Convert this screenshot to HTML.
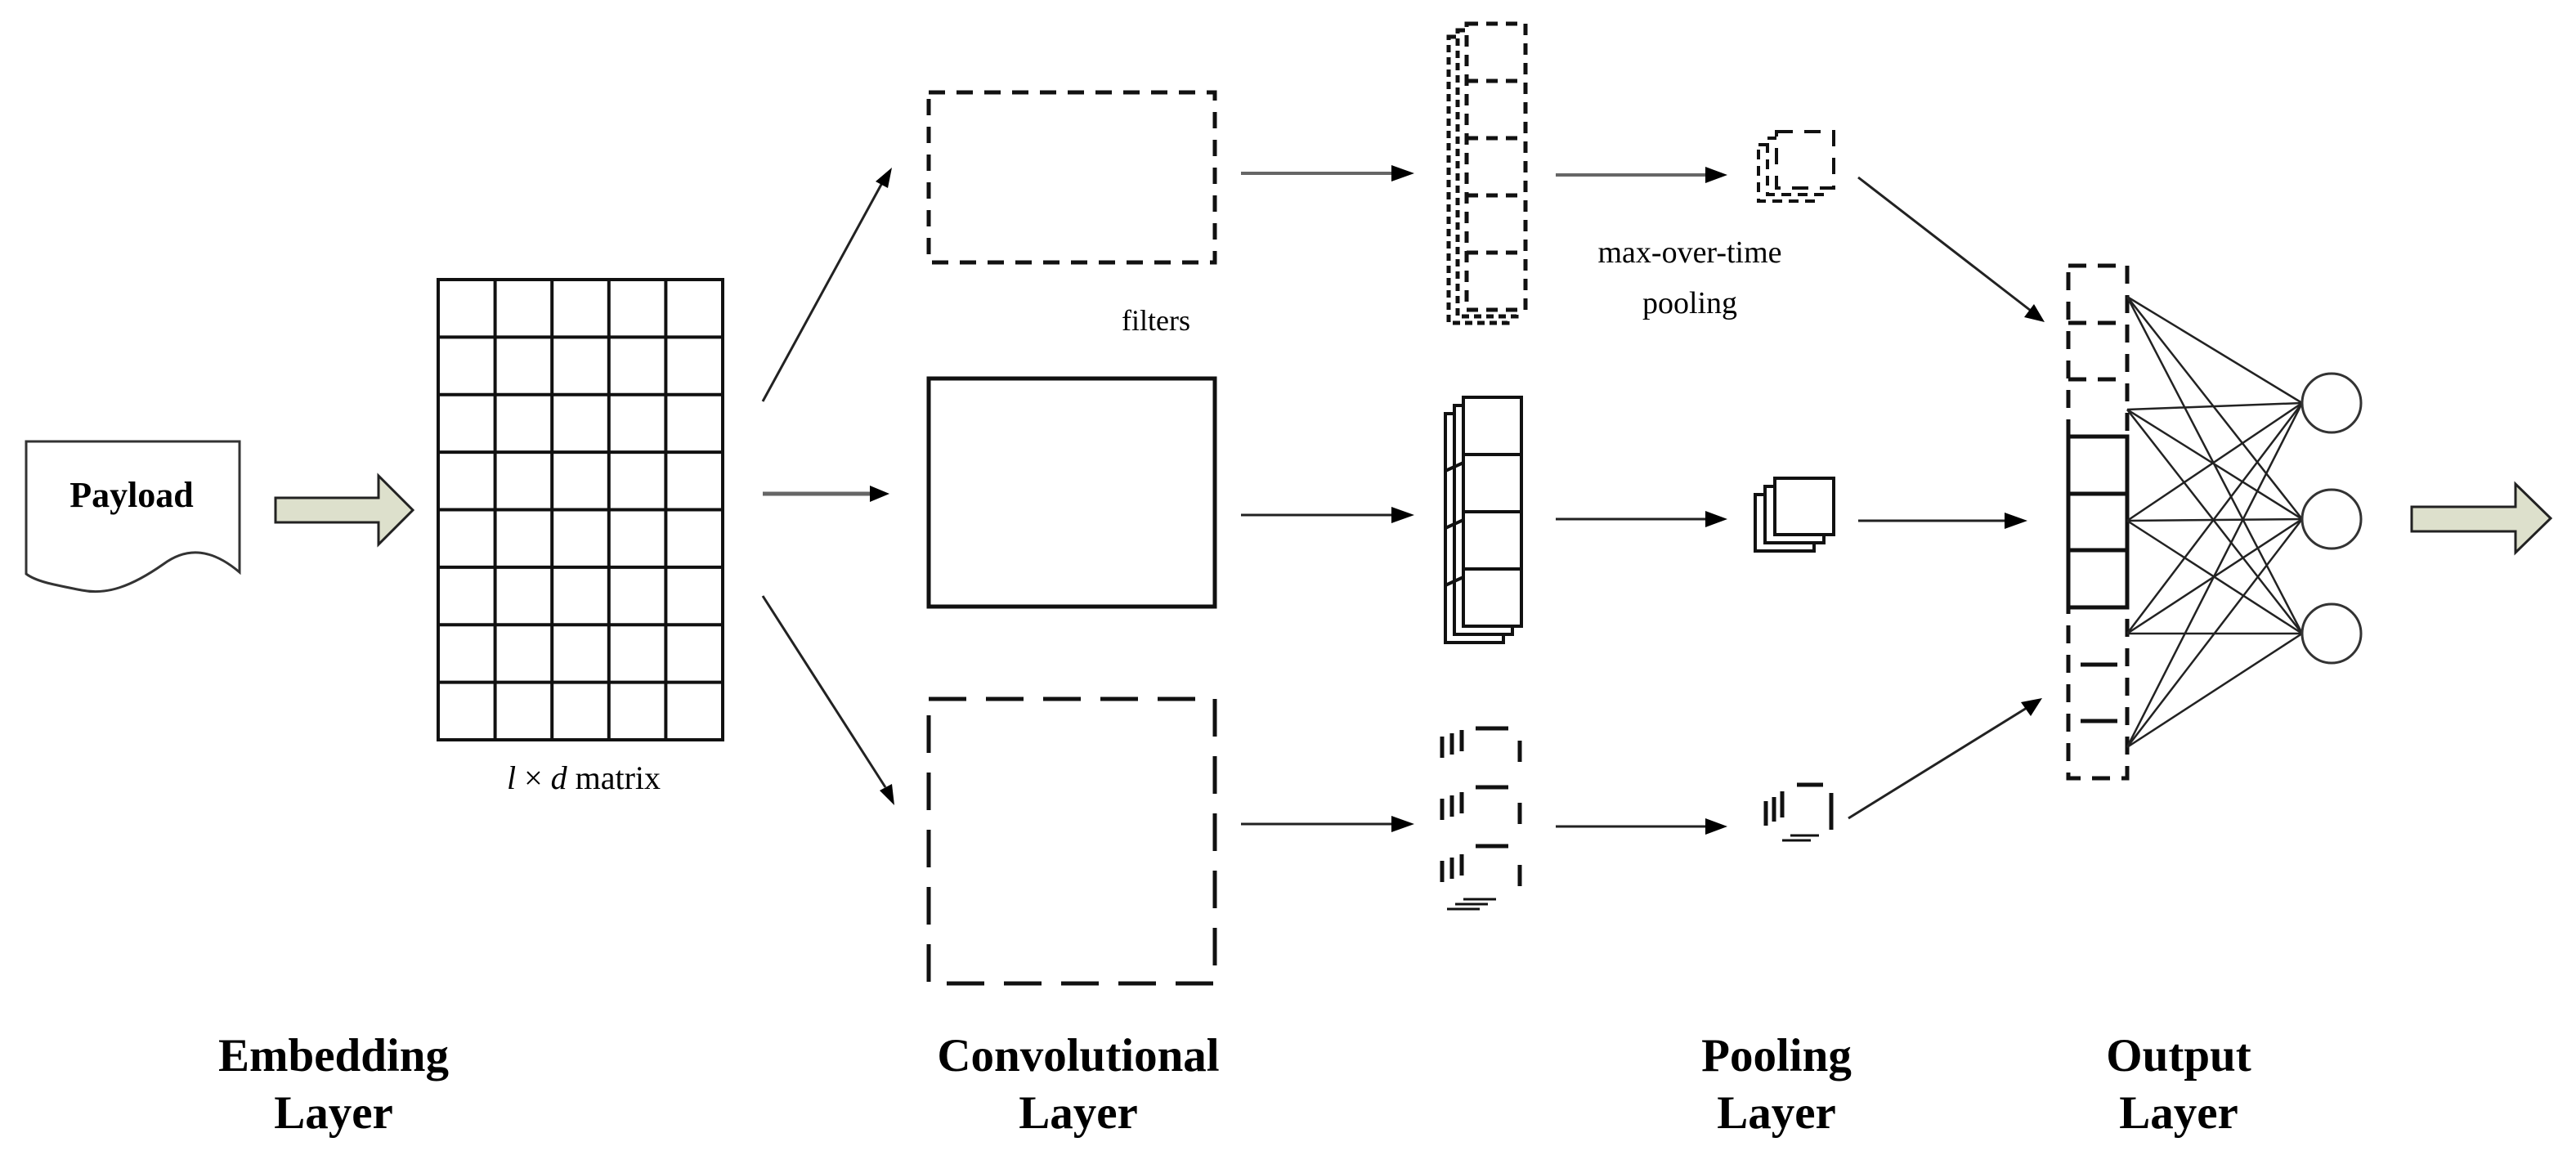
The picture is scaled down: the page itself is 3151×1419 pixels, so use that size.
<!DOCTYPE html>
<html><head><meta charset="utf-8"><style>
html,body{margin:0;padding:0;background:#fff;}
svg{display:block;}
text{font-family:"Liberation Serif",serif;fill:#000;}
</style></head><body>
<svg width="3151" height="1419" viewBox="0 0 3151 1419" xmlns="http://www.w3.org/2000/svg">

<!-- Payload document -->
<path d="M32,540 H293 V700 C260,672 230,668 200,690 C160,718 130,728 100,722 C70,716 45,712 32,702 Z" fill="#fff" stroke="#333" stroke-width="3"/>
<text x="161" y="620" font-size="44" font-weight="bold" text-anchor="middle">Payload</text>

<!-- input block arrow -->
<path d="M337,609 H463 V582 L505,624 L463,666 V639 H337 Z" fill="#dde0cc" stroke="#222" stroke-width="3"/>

<!-- matrix grid -->
<g stroke="#111" stroke-width="4" fill="none">
<rect x="536" y="342" width="348" height="563"/>
<line x1="605.6" y1="342" x2="605.6" y2="905"/>
<line x1="675.2" y1="342" x2="675.2" y2="905"/>
<line x1="744.8" y1="342" x2="744.8" y2="905"/>
<line x1="814.4" y1="342" x2="814.4" y2="905"/>
<line x1="536" y1="412.4" x2="884" y2="412.4"/>
<line x1="536" y1="482.8" x2="884" y2="482.8"/>
<line x1="536" y1="553.1" x2="884" y2="553.1"/>
<line x1="536" y1="623.5" x2="884" y2="623.5"/>
<line x1="536" y1="693.9" x2="884" y2="693.9"/>
<line x1="536" y1="764.3" x2="884" y2="764.3"/>
<line x1="536" y1="834.6" x2="884" y2="834.6"/>
</g>
<text x="714" y="965" font-size="40" text-anchor="middle"><tspan font-style="italic">l</tspan> × <tspan font-style="italic">d</tspan> matrix</text>

<!-- fan arrows -->
<g stroke="#222" stroke-width="3">
<line x1="933" y1="491" x2="1080" y2="222"/>
<line x1="933" y1="604" x2="1066" y2="604" stroke="#666" stroke-width="5"/>
<line x1="933" y1="729" x2="1083" y2="963"/>
</g>
<polygon points="1091,205 1071,222 1086,230" fill="#000"/>
<polygon points="1088,604 1064,594 1064,614" fill="#000"/>
<polygon points="1094,985 1076,967 1091,959" fill="#000"/>

<!-- conv boxes -->
<rect x="1136" y="113" width="350" height="208" fill="none" stroke="#111" stroke-width="5" stroke-dasharray="20 14"/>
<rect x="1136" y="463" width="350" height="279" fill="none" stroke="#111" stroke-width="5"/>
<rect x="1136" y="855" width="350" height="348" fill="none" stroke="#111" stroke-width="5" stroke-dasharray="46 24"/>
<text x="1414" y="404" font-size="36" text-anchor="middle">filters</text>

<!-- conv -> map arrows -->
<g stroke="#222" stroke-width="3">
<line x1="1518" y1="212" x2="1705" y2="212" stroke="#666" stroke-width="4"/>
<line x1="1518" y1="630" x2="1705" y2="630"/>
<line x1="1518" y1="1008" x2="1705" y2="1008"/>
</g>
<polygon points="1730,212 1702,202 1702,222" fill="#000"/>
<polygon points="1730,630 1702,620 1702,640" fill="#000"/>
<polygon points="1730,1008 1702,998 1702,1018" fill="#000"/>

<!-- top feature map (dotted stack) -->
<g fill="#fff" stroke="#111" stroke-width="5" stroke-dasharray="9 6">
<rect x="1772" y="45" width="72" height="350"/>
<rect x="1783" y="37" width="72" height="350"/>
<rect x="1794" y="29" width="72" height="350" stroke-dasharray="14 10"/>
<line x1="1794" y1="99" x2="1866" y2="99" stroke-dasharray="14 10"/>
<line x1="1794" y1="169" x2="1866" y2="169" stroke-dasharray="14 10"/>
<line x1="1794" y1="239" x2="1866" y2="239" stroke-dasharray="14 10"/>
<line x1="1794" y1="309" x2="1866" y2="309" stroke-dasharray="14 10"/>
</g>

<!-- middle feature map (solid stack) -->
<g fill="#fff" stroke="#111" stroke-width="4">
<rect x="1768" y="506" width="71" height="280"/>
<rect x="1779" y="496" width="71" height="280"/>
<rect x="1790" y="486" width="71" height="280"/>
<line x1="1790" y1="556" x2="1861" y2="556"/>
<line x1="1790" y1="626" x2="1861" y2="626"/>
<line x1="1790" y1="696" x2="1861" y2="696"/>
<line x1="1768" y1="576" x2="1790" y2="566"/>
<line x1="1768" y1="646" x2="1790" y2="636"/>
<line x1="1768" y1="716" x2="1790" y2="706"/>
</g>

<!-- bottom feature map (sparse dashed) -->
<g fill="none" stroke="#111" stroke-width="5">
<g stroke-dasharray="26 50">
<line x1="1764" y1="901" x2="1764" y2="1120"/>
<line x1="1776" y1="897" x2="1776" y2="1115"/>
<line x1="1788" y1="893" x2="1788" y2="1110"/>
<line x1="1859" y1="906" x2="1859" y2="1110"/>
</g>
<line x1="1805" y1="891" x2="1845" y2="891"/>
<line x1="1805" y1="963" x2="1845" y2="963"/>
<line x1="1805" y1="1035" x2="1845" y2="1035"/>
<line x1="1790" y1="1100" x2="1830" y2="1100" stroke-width="3"/>
<line x1="1780" y1="1106" x2="1820" y2="1106" stroke-width="3"/>
<line x1="1770" y1="1112" x2="1810" y2="1112" stroke-width="3"/>
</g>

<!-- map -> pool arrows -->
<g stroke="#222" stroke-width="3">
<line x1="1903" y1="214" x2="2090" y2="214" stroke="#666" stroke-width="4"/>
<line x1="1903" y1="635" x2="2090" y2="635"/>
<line x1="1903" y1="1011" x2="2090" y2="1011"/>
</g>
<polygon points="2113,214 2086,204 2086,224" fill="#000"/>
<polygon points="2113,635 2086,625 2086,645" fill="#000"/>
<polygon points="2113,1011 2086,1001 2086,1021" fill="#000"/>
<text x="2067" y="321" font-size="38" text-anchor="middle">max-over-time</text>
<text x="2067" y="383" font-size="38" text-anchor="middle">pooling</text>

<!-- pools -->
<g fill="#fff" stroke="#111" stroke-width="4" stroke-dasharray="12 8">
<rect x="2151" y="177" width="70" height="69"/>
<rect x="2162" y="169" width="70" height="69"/>
<rect x="2173" y="161" width="70" height="69" stroke-dasharray="20 14"/>
</g>
<g fill="#fff" stroke="#111" stroke-width="4">
<rect x="2147" y="605" width="72" height="69"/>
<rect x="2159" y="595" width="72" height="69"/>
<rect x="2171" y="585" width="72" height="69"/>
</g>
<g fill="none" stroke="#111" stroke-width="5">
<line x1="2160" y1="980" x2="2160" y2="1010"/>
<line x1="2170" y1="975" x2="2170" y2="1005"/>
<line x1="2180" y1="968" x2="2180" y2="1000"/>
<line x1="2240" y1="970" x2="2240" y2="1015"/>
<line x1="2198" y1="960" x2="2230" y2="960"/>
<line x1="2190" y1="1022" x2="2225" y2="1022" stroke-width="3"/>
<line x1="2180" y1="1028" x2="2215" y2="1028" stroke-width="3"/>
</g>

<!-- pool -> output arrows -->
<g stroke="#222" stroke-width="3">
<line x1="2273" y1="217" x2="2484" y2="380"/>
<line x1="2273" y1="637" x2="2455" y2="637"/>
<line x1="2261" y1="1001" x2="2479" y2="866"/>
</g>
<polygon points="2501,394 2476,388 2488,372" fill="#000"/>
<polygon points="2480,637 2452,627 2452,647" fill="#000"/>
<polygon points="2498,854 2484,876 2472,859" fill="#000"/>

<!-- output column -->
<g fill="none" stroke="#111" stroke-width="5">
<rect x="2530" y="325" width="72" height="627" stroke-dasharray="22 14"/>
<line x1="2530" y1="395" x2="2602" y2="395" stroke-dasharray="22 14"/>
<line x1="2530" y1="464" x2="2602" y2="464" stroke-dasharray="22 14"/>
<rect x="2530" y="534" width="72" height="209"/>
<line x1="2530" y1="604" x2="2602" y2="604"/>
<line x1="2530" y1="673" x2="2602" y2="673"/>
<line x1="2545" y1="813" x2="2590" y2="813"/>
<line x1="2545" y1="882" x2="2590" y2="882"/>
</g>

<!-- fully connected -->
<g stroke="#222" stroke-width="2.5">
<line x1="2602" y1="363" x2="2816" y2="493"/><line x1="2602" y1="363" x2="2816" y2="635"/><line x1="2602" y1="363" x2="2816" y2="775"/>
<line x1="2602" y1="501" x2="2816" y2="493"/><line x1="2602" y1="501" x2="2816" y2="635"/><line x1="2602" y1="501" x2="2816" y2="775"/>
<line x1="2602" y1="637" x2="2816" y2="493"/><line x1="2602" y1="637" x2="2816" y2="635"/><line x1="2602" y1="637" x2="2816" y2="775"/>
<line x1="2602" y1="775" x2="2816" y2="493"/><line x1="2602" y1="775" x2="2816" y2="635"/><line x1="2602" y1="775" x2="2816" y2="775"/>
<line x1="2602" y1="914" x2="2816" y2="493"/><line x1="2602" y1="914" x2="2816" y2="635"/><line x1="2602" y1="914" x2="2816" y2="775"/>
</g>
<g fill="#fff" stroke="#333" stroke-width="3">
<circle cx="2852" cy="493" r="36"/>
<circle cx="2852" cy="635" r="36"/>
<circle cx="2852" cy="775" r="36"/>
</g>

<!-- output block arrow -->
<path d="M2950,620 H3077 V592 L3120,634 L3077,676 V650 H2950 Z" fill="#dde0cc" stroke="#222" stroke-width="3"/>

<!-- layer labels -->
<g font-size="57" font-weight="bold" text-anchor="middle">
<text x="408" y="1310">Embedding</text><text x="408" y="1380">Layer</text>
<text x="1319" y="1310">Convolutional</text><text x="1319" y="1380">Layer</text>
<text x="2173" y="1310">Pooling</text><text x="2173" y="1380">Layer</text>
<text x="2665" y="1310">Output</text><text x="2665" y="1380">Layer</text>
</g>
</svg>
</body></html>
